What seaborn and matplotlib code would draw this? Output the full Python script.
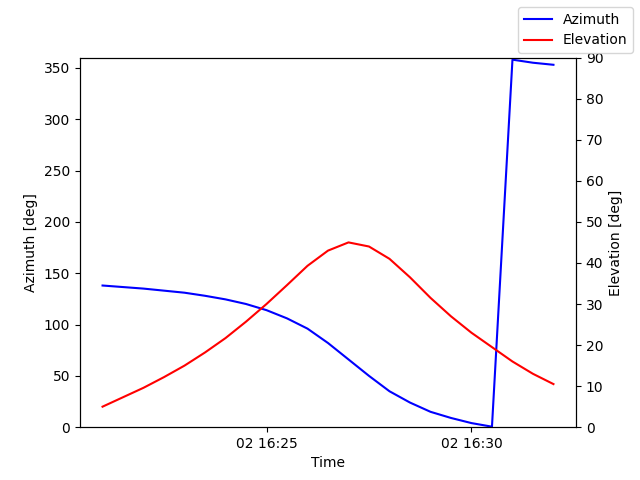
import matplotlib
matplotlib.use("Agg")
import matplotlib.pyplot as plt
import matplotlib.dates as mdates
import seaborn as sns
import pandas as pd

times = pd.date_range("2024-01-02 16:21:00", periods=23, freq="30s")
azimuth = [138, 136.5, 135, 133, 131, 128, 124.5, 120, 114, 106, 96, 82, 66, 50, 35,
           24, 15, 9, 4, 0.5, 358, 355, 353]
elevation = [5, 7.3, 9.6, 12.2, 15, 18.2, 21.7, 25.7, 30, 34.6, 39.3, 43, 45, 44, 41,
             36.5, 31.5, 27, 23, 19.5, 16, 13, 10.5]

df = pd.DataFrame({"Time": times, "Azimuth": azimuth, "Elevation": elevation})

fig, ax = plt.subplots(figsize=(6.4, 4.8), dpi=100)
sns.lineplot(data=df, x="Time", y="Azimuth", color="blue", ax=ax, label="Azimuth", legend=False)
ax2 = ax.twinx()
sns.lineplot(data=df, x="Time", y="Elevation", color="red", ax=ax2, label="Elevation", legend=False)

ax.set_ylim(0, 360)
ax2.set_ylim(0, 90)
ax.set_ylabel("Azimuth [deg]")
ax2.set_ylabel("Elevation [deg]")
ax.set_xlabel("Time")
ax.xaxis.set_major_locator(mdates.MinuteLocator(byminute=[25, 30]))
ax.xaxis.set_major_formatter(mdates.DateFormatter("%d %H:%M"))
ax2.set_yticks(range(0, 91, 10))

fig.legend(loc="upper right")
fig.savefig("out.png", dpi=100)
